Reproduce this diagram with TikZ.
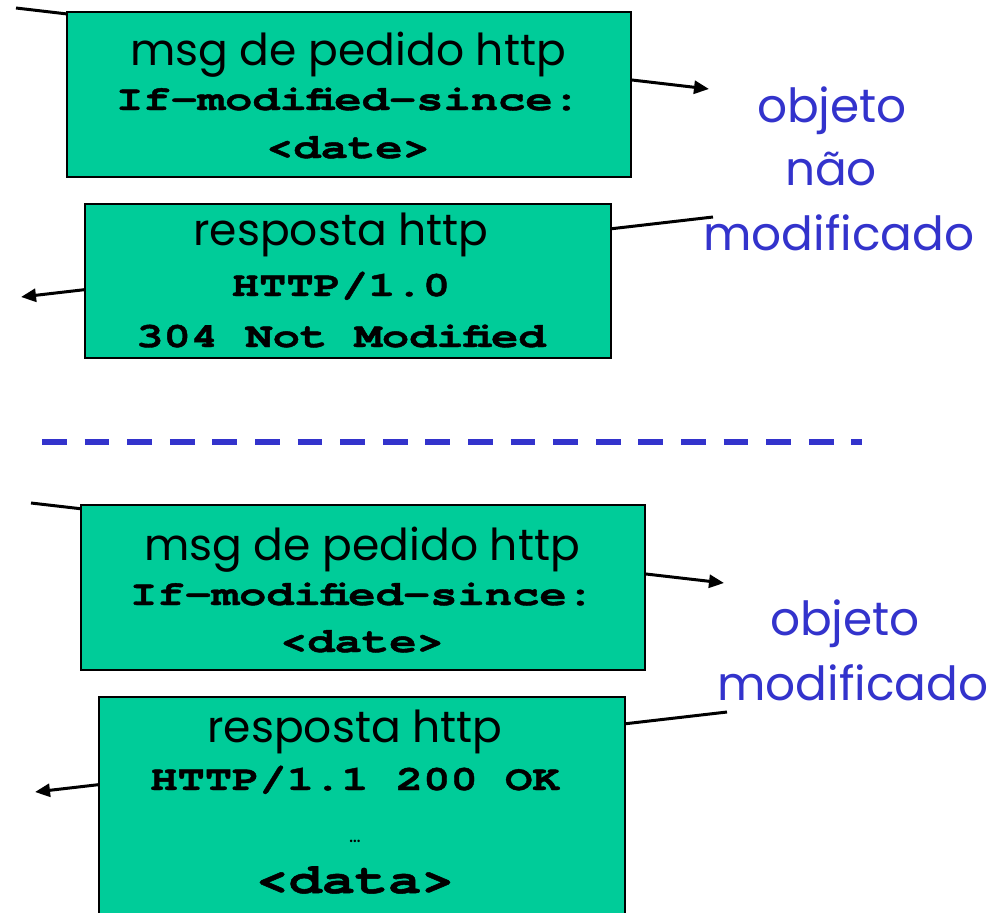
\documentclass[tikz,border=0pt]{standalone}
\usepackage{fontspec}
\setmainfont{Poppins}
\newfontfamily\monob[FakeStretch=1.3,FakeBold=1.2]{texgyrecursor-bold.otf}
\usetikzlibrary{arrows.meta}
\definecolor{boxgreen}{RGB}{0,204,153}
\definecolor{labblue}{RGB}{51,51,204}
\begin{document}
\begin{tikzpicture}[x=1pt,y=-1pt,
  msgbox/.style={draw=black,line width=2pt,fill=boxgreen,inner sep=0pt,anchor=north west},
  conn/.style={line width=3pt,black},
  arr/.style={conn,-{Triangle[length=15pt,width=13pt]}},
  head/.style={font=\fontsize{44}{54}\selectfont,anchor=base,inner sep=0pt},
  code/.style={font=\monob\fontsize{35}{40}\selectfont,anchor=base,inner sep=0pt},
  bigcode/.style={font=\monob\fontsize{42.5}{50}\selectfont,anchor=base,inner sep=0pt},
  lab/.style={font=\fontsize{47}{64}\selectfont,text=labblue,anchor=base,inner sep=0pt},
  sep/.style={labblue,line width=6pt,dash pattern=on 24.7pt off 17.9pt}]
\useasboundingbox (0,0) rectangle (996,913);
% connector end points
\coordinate (q1s) at (16,8);
\coordinate (q1e) at (709,89);
\coordinate (r1s) at (713,217);
\coordinate (r1e) at (21,297);
\coordinate (q2s) at (31,503);
\coordinate (q2e) at (724,583);
\coordinate (r2s) at (727,712);
\coordinate (r2e) at (35,792);
\coordinate (sepa) at (42,442);
\coordinate (sepb) at (862,442);
% connectors (behind boxes)
\draw[arr] (q1s) -- (q1e);
\draw[arr] (r1s) -- (r1e);
\draw[arr] (q2s) -- (q2e);
\draw[arr] (r2s) -- (r2e);
% boxes
\node[msgbox,minimum width=564pt,minimum height=165pt] (req1) at (66,11) {};
\node[msgbox,minimum width=526pt,minimum height=154pt] (resp1) at (84,203) {};
\node[msgbox,minimum width=564pt,minimum height=165pt] (req2) at (80,504) {};
\node[msgbox,minimum width=526pt,minimum height=240pt] (resp2) at (98,696) {};
% box texts
\node[head] (req1a) at (348,65) {msg de pedido http};
\node[code] (req1b) at (348,110) {If-modified-since:};
\node[code] (req1c) at (348,158) {<date>};
\node[head] (resp1a) at (341,245) {resposta http};
\node[code] (resp1b) at (341,296) {HTTP/1.0};
\node[code] (resp1c) at (341,347) {304 Not Modified};
\node[head] (req2a) at (362,560) {msg de pedido http};
\node[code] (req2b) at (362,605) {If-modified-since:};
\node[code] (req2c) at (362,652) {<date>};
\node[head] (resp2a) at (355,742) {resposta http};
\node[code] (resp2b) at (355,790) {HTTP/1.1 200 OK};
\node[font=\fontsize{20}{24}\selectfont,anchor=base,inner sep=0pt] (resp2c) at (355,842) {…};
\node[bigcode] (resp2d) at (355,893) {<data>};
% labels
\node[lab] (l1a) at (832,122) {objeto};
\node[lab] (l1b) at (831,185) {não};
\node[lab] (l1c) at (839,250) {modificado};
\node[lab] (l2a) at (845,635) {objeto};
\node[lab] (l2b) at (853,700) {modificado};
% separator
\draw[sep] (sepa) -- (sepb);
\end{tikzpicture}
\end{document}
